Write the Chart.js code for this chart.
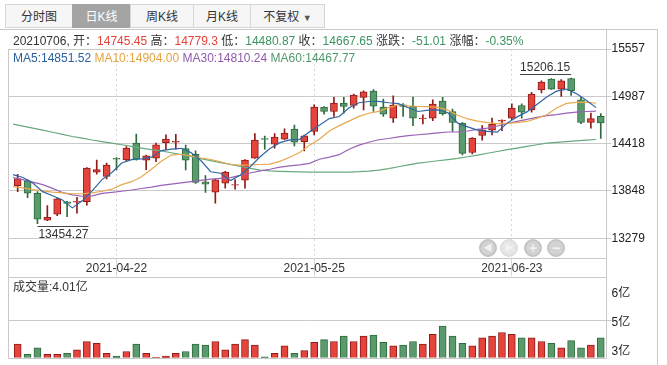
<!DOCTYPE html>
<html>
<head>
<meta charset="utf-8">
<script src="https://cdn.jsdelivr.net/npm/chart.js@4.4.1/dist/chart.umd.min.js"></script>
<style>
body { margin:0; width:667px; height:365px; overflow:hidden; background:#fff; position:relative;
  font-family:"Liberation Sans","Noto Sans CJK SC",sans-serif; font-size:12px; color:#333; }
.abs { position:absolute; }
.tab { position:absolute; top:4px; height:24px; line-height:24px; text-align:center; font-size:12px;
  color:#333; background:#f6f6f6; border:1px solid #d6d6d6; box-sizing:border-box; }
.tab.sel { background:#a4a4a4; color:#fff; border-color:#a4a4a4; }
.hl { position:absolute; height:1px; background:#c9c9c9; }
.vl { position:absolute; width:1px; background:#c9c9c9; }
.info { position:absolute; left:13px; height:14px; line-height:14px; white-space:pre; }
.r { color:#e5423b; } .g { color:#3c9461; }
.btn { position:absolute; top:239px; width:18px; height:18px; border-radius:50%; background:#d3d3d3;
  box-sizing:border-box; border:2px solid #c4c4c4; color:#f2f2f2; font-size:9px; line-height:14px; text-align:center; }
</style>
</head>
<body>

<div class="tab" style="left:5px;width:68px">分时图</div>
<div class="tab sel" style="left:72px;width:59px">日K线</div>
<div class="tab" style="left:130px;width:64px">周K线</div>
<div class="tab" style="left:193px;width:58px">月K线</div>
<div class="tab" style="left:250px;width:75px">不复权 <span style="font-size:9px;color:#555">▼</span></div>

<canvas id="kChart" width="667" height="280" class="abs" style="left:0;top:0"></canvas>
<canvas id="volChart" width="667" height="88" class="abs" style="left:0;top:277px"></canvas>

<div class="info" style="top:34px">20210706, 开：<span class="r">14745.45</span> 高：<span class="r">14779.3</span> 低：<span class="g">14480.87</span> 收：<span class="g">14667.65</span> 涨跌：<span class="g">-51.01</span> 涨幅：<span class="g">-0.35%</span></div>
<div class="info" style="top:51px"><span style="color:#2b5f9e">MA5:14851.52</span> <span style="color:#e6a23e">MA10:14904.00</span> <span style="color:#8f5aab">MA30:14810.24</span> <span style="color:#4f9a6c">MA60:14467.77</span></div>
<div class="info" style="top:280px">成交量:4.01亿</div>

<!-- panel frame -->
<div class="hl" style="left:0;top:29px;width:658px"></div>
<div class="vl" style="left:657px;top:29px;height:336px"></div>
<div class="vl" style="left:606px;top:29px;height:330px"></div>
<div class="vl" style="left:8px;top:49px;height:310px"></div>
<div class="hl" style="left:8px;top:258px;width:599px"></div>
<div class="hl" style="left:8px;top:277px;width:599px"></div>
<div class="hl" style="left:8px;top:358px;width:599px"></div>

<div class="btn" style="left:479px">◀</div>
<div class="btn" style="left:500px;background:#e6e6e6;border-color:#dedede">▶</div>
<div class="btn" style="left:524px;font-size:14px;font-weight:bold">+</div>
<div class="btn" style="left:547px;font-size:14px;font-weight:bold">−</div>

<script>
// trading days shown
var dates = ['2021-04-08','2021-04-09','2021-04-12','2021-04-13','2021-04-14','2021-04-15','2021-04-16','2021-04-19','2021-04-20','2021-04-21',
	'2021-04-22','2021-04-23','2021-04-26','2021-04-27','2021-04-28','2021-04-29','2021-04-30','2021-05-06','2021-05-07','2021-05-10',
	'2021-05-11','2021-05-12','2021-05-13','2021-05-14','2021-05-17','2021-05-18','2021-05-19','2021-05-20','2021-05-21','2021-05-24',
	'2021-05-25','2021-05-26','2021-05-27','2021-05-28','2021-05-31','2021-06-01','2021-06-02','2021-06-03','2021-06-04','2021-06-07',
	'2021-06-08','2021-06-09','2021-06-10','2021-06-11','2021-06-15','2021-06-16','2021-06-17','2021-06-18','2021-06-21','2021-06-22',
	'2021-06-23','2021-06-24','2021-06-25','2021-06-28','2021-06-29','2021-06-30','2021-07-01','2021-07-02','2021-07-05','2021-07-06'];

var open = [13913,13970,13821,13496,13568,13717,13715,13720,14074,14022,
	14240,14223,14424,14219,14243,14431,14436,14359,14290,13958,
	13833,13942,13918,13978,14243,14478,14412,14472,14593,14443,
	14564,14858,14805,14906,14877,14974,15051,14858,14725,14886,
	14867,14718,14725,14930,14805,14665,14311,14516,14581,14688,
	14725,14877,14825,15066,15195,15075,15200,14946,14672,14745.45];
var close = [13994,13821,13508,13532,13753,13697,13725,14123,14106,14159,
	14232,14364,14231,14271,14404,14472,14445,14219,13950,13930,
	13982,14075,13925,14219,14460,14468,14496,14545,14436,14512,
	14858,14805,14906,14865,15003,15042,14870,14774,14882,14866,
	14725,14726,14894,14780,14672,14300,14484,14584,14653,14698,
	14846,14798,15015,15159,15075,15175,15054,14672,14718.66,14667.65];
var high = [14050,13985,13840,13672,13765,13725,13773,14130,14219,14183,
	14250,14383,14532,14280,14424,14524,14530,14400,14330,14034,
	13990,14085,13985,14225,14540,14510,14540,14596,14641,14520,
	14886,14865,14974,14974,15015,15054,15070,14954,14994,14900,
	14978,14765,14946,14975,14834,14672,14492,14636,14725,14705,
	14898,14898,15037,15175,15200,15190,15206.15,14974,14786,14779.3];
var low = [13841,13768,13454.27,13490,13550,13540,13580,13676,14050,13994,
	14102,14211,14220,14105,14202,14345,14350,14102,13940,13830,
	13701,13882,13870,13882,14240,14350,14364,14465,14390,14330,
	14524,14774,14745,14786,14846,14825,14805,14745,14672,14745,
	14633,14655,14693,14760,14564,14283,14295,14460,14524,14575,
	14705,14725,14798,15027,15070,14986,14998,14657,14605,14480.87];

// volume, 亿
var volume = [3.66,3.10,3.46,3.10,3.10,3.15,3.35,3.81,3.71,3.15,
	3.00,3.25,3.66,3.15,2.92,3.00,3.15,3.25,3.66,3.61,
	3.81,3.35,3.66,3.91,3.61,2.95,3.15,3.56,3.15,3.30,
	3.76,3.91,3.81,4.11,3.81,4.11,4.16,3.76,3.56,3.61,
	3.81,3.66,4.21,4.67,4.11,3.71,3.56,4.01,4.11,4.31,
	4.21,4.01,4.01,3.81,3.71,3.46,3.86,3.46,3.61,4.01];

var ma5 = [14045,14010,13945,13840,13790,13740,13645,13730,13850,13985,
	14070,14185,14225,14235,14255,14335,14352,14362,14310,14215,
	14080,14062,13975,14040,14140,14260,14360,14430,14464,14470,
	14560,14640,14720,14745,14850,14910,14925,14926,14910,14900,
	14850,14805,14822,14825,14790,14665,14620,14580,14565,14556,
	14665,14740,14800,14890,14980,15050,15075,15020,14940,14851.52];
var ma10 = [13900,13885,13865,13850,13835,13825,13815,13815,13825,13845,
	13870,13925,13960,14020,14110,14205,14280,14290,14270,14245,
	14227,14200,14167,14160,14162,14167,14172,14205,14254,14312,
	14400,14472,14570,14635,14689,14746,14784,14807,14851,14886,
	14873,14865,14864,14855,14822,14760,14715,14690,14670,14658,
	14663,14670,14685,14722,14765,14848,14903,14914,14918,14904.00];
var ma30 = [14010,13985,13955,13925,13880,13830,13801,13785,13790,13820,
	13832,13845,13860,13878,13895,13915,13930,13945,13960,13975,
	13990,14000,14010,14035,14065,14090,14110,14135,14150,14162,
	14180,14230,14255,14285,14350,14400,14435,14465,14480,14500,
	14515,14525,14535,14548,14558,14560,14570,14590,14605,14630,
	14660,14685,14710,14735,14755,14768,14785,14798,14805,14810.24];
var ma60 = [14653,14628,14604,14580,14555,14530,14504,14484,14462,14443,
	14425,14405,14384,14364,14345,14330,14308,14285,14263,14238,
	14213,14190,14168,14145,14120,14100,14090,14085,14082,14078,
	14075,14075,14075,14075,14076,14080,14088,14100,14118,14140,
	14162,14183,14197,14212,14226,14240,14260,14280,14302,14323,
	14345,14365,14385,14405,14424,14433,14442,14451,14460,14467.77];

var priceTicks = [13279, 13848, 14418, 14987, 15557];
var volTicks = [3.4, 5.0, 6.6];
var dateTicks = [10, 30, 50];

var font = '"Liberation Sans","Noto Sans CJK SC",sans-serif';
var upFill = '#e5443c', upLine = '#8e1b17';
var dnFill = '#5a9a6d', dnLine = '#2d6b3c';
var isUp = close.map(function(c, i) { return c >= open[i]; });

var xMin = -0.98, xMax = 59.58, maShift = 0.47;

function xy(arr) {
	return arr.map(function(v, i) { return {x: i, y: v}; });
}

function maLine(label, arr, color) {
	return {type: 'line', label: label, data: xy(arr), xAxisID: 'xl', borderColor: color,
		borderWidth: 1.2, pointRadius: 0, tension: 0, order: 0};
}

// high / low markers
var extremes = {
	id: 'extremes',
	afterDatasetsDraw: function(chart) {
		var ctx = chart.ctx, x = chart.scales.x, y = chart.scales.y;
		var hi = 0, lo = 0;
		for (var i = 0; i < high.length; i++) {
			if (high[i] > high[hi]) hi = i;
			if (low[i] < low[lo]) lo = i;
		}
		ctx.save();
		ctx.font = '12px ' + font;
		ctx.fillStyle = '#333';
		ctx.strokeStyle = '#444';
		ctx.lineWidth = 1;

		var hx = x.getPixelForValue(hi), hy = y.getPixelForValue(high[hi]);
		var ht = high[hi].toFixed(2), hw = ctx.measureText(ht).width;
		var hl = Math.round(hy - 3) - 0.5;
		ctx.textAlign = 'right'; ctx.textBaseline = 'bottom';
		ctx.fillText(ht, hx - 1, hl - 1);
		ctx.beginPath(); ctx.moveTo(hx - hw - 1, hl); ctx.lineTo(hx, hl); ctx.stroke();

		var lx = x.getPixelForValue(lo), ly = y.getPixelForValue(low[lo]);
		var lt = low[lo].toFixed(2), lw = ctx.measureText(lt).width;
		var ll = Math.round(ly + 2) + 0.5;
		ctx.textAlign = 'left'; ctx.textBaseline = 'top';
		ctx.fillText(lt, lx + 1, ll + 2);
		ctx.beginPath(); ctx.moveTo(lx, ll); ctx.lineTo(lx + lw + 1, ll); ctx.stroke();
		ctx.restore();
	}
};

Chart.defaults.font.family = font;
Chart.defaults.font.size = 12;
Chart.defaults.color = '#333';

new Chart(document.getElementById('kChart'), {
	type: 'bar',
	data: {
		datasets: [
			maLine('MA5', ma5, '#2f66a3'),
			maLine('MA10', ma10, '#e9a84d'),
			maLine('MA30', ma30, '#9a62b6'),
			maLine('MA60', ma60, '#66a97c'),
			{
				label: 'wick',
				data: dates.map(function(d, i) { return {x: i, y: [low[i], high[i]]}; }),
				backgroundColor: isUp.map(function(u) { return u ? upLine : dnLine; }),
				barThickness: 1, grouped: false, order: 2
			},
			{
				label: 'body',
				data: dates.map(function(d, i) { return {x: i, y: [open[i], close[i]]}; }),
				backgroundColor: isUp.map(function(u) { return u ? upFill : dnFill; }),
				borderColor: isUp.map(function(u) { return u ? upLine : dnLine; }),
				borderWidth: 1, borderSkipped: false,
				barThickness: 7, grouped: false, order: 1
			}
		]
	},
	options: {
		responsive: false,
		animation: false,
		layout: {padding: {left: 8, top: 49, right: 0, bottom: 0}},
		plugins: {legend: {display: false}, tooltip: {enabled: false}},
		scales: {
			x: {
				type: 'linear', min: xMin, max: xMax, position: 'bottom', offset: false,
				afterBuildTicks: function(s) { s.ticks = dateTicks.map(function(v) { return {value: v}; }); },
				afterFit: function(s) { s.height = 21.7; },
				ticks: {callback: function(v) { return dates[v]; }, padding: -15, maxRotation: 0, color: '#333'},
				grid: {color: '#d6d6d6', lineWidth: 1, drawTicks: true, tickLength: 18, offset: false},
				border: {display: false, dash: [2, 3]}
			},
			xl: {
				type: 'linear', min: xMin + maShift, max: xMax + maShift, display: false, offset: false,
				grid: {offset: false}
			},
			y: {
				position: 'right', min: 13038, max: 15557,
				afterBuildTicks: function(s) { s.ticks = priceTicks.map(function(v) { return {value: v}; }); },
				afterFit: function(s) { s.width = 60.5; },
				ticks: {callback: function(v) { return String(v); }, padding: 0, color: '#222'},
				grid: {color: '#cacaca', lineWidth: 1, tickLength: 5},
				border: {display: false}
			}
		}
	},
	plugins: [extremes]
});

new Chart(document.getElementById('volChart'), {
	type: 'bar',
	data: {
		datasets: [{
			label: '成交量',
			data: xy(volume),
			backgroundColor: isUp.map(function(u) { return u ? upFill : dnFill; }),
			borderColor: isUp.map(function(u) { return u ? upLine : dnLine; }),
			borderWidth: 1,
			barThickness: 7,
			base: 2.9
		}]
	},
	options: {
		responsive: false,
		animation: false,
		layout: {padding: {left: 8, top: 0, right: 0, bottom: 6.7}},
		plugins: {legend: {display: false}, tooltip: {enabled: false}},
		scales: {
			x: {type: 'linear', min: xMin, max: xMax, display: false, offset: false, grid: {offset: false}},
			y: {
				position: 'right', min: 2.9, max: 7.0,
				afterBuildTicks: function(s) { s.ticks = volTicks.map(function(v) { return {value: v}; }); },
				afterFit: function(s) { s.width = 60.5; },
				ticks: {callback: function(v) { return Math.floor(v) + '亿'; }, padding: 0, labelOffset: 2.6, color: '#222'},
				grid: {
					color: function(c) { return c.tick && Math.abs(c.tick.value - 5) < 0.01 ? '#cacaca' : 'rgba(0,0,0,0)'; },
					tickLength: 5
				},
				border: {display: false}
			}
		}
	}
});
</script>
</body>
</html>
